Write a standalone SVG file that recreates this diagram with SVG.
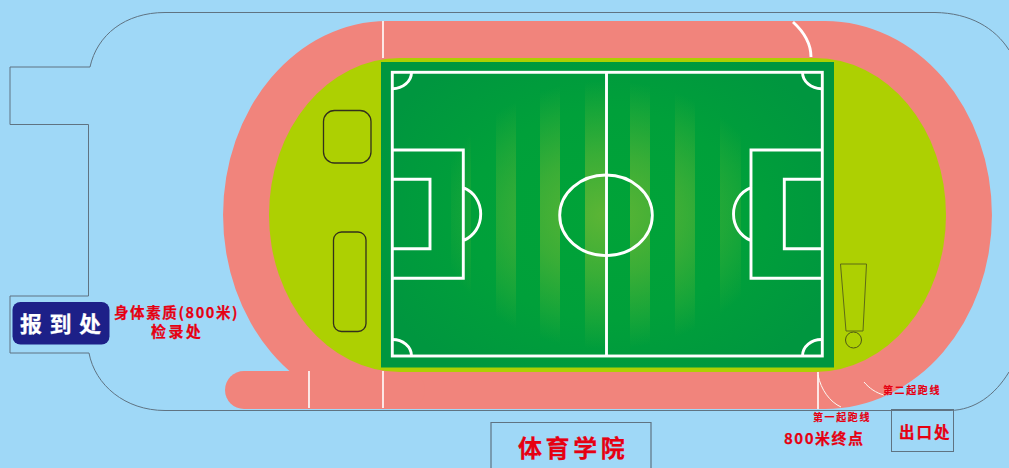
<svg xmlns="http://www.w3.org/2000/svg" width="1009" height="468" viewBox="0 0 1009 468">
<style>
text{font-family:"Noto Sans CJK SC","Liberation Sans",sans-serif;font-weight:700;fill:#e60012;stroke:#e60012;stroke-width:.25}
.o{fill:none;stroke:#5f7382;stroke-width:1}
.w{fill:none;stroke:#fff;stroke-width:2.9}
.t{fill:none;stroke:#fff;stroke-width:1.6}
.f{fill:none;stroke:#fbfbf5;stroke-width:1}
.k{fill:none;stroke:#33301c;stroke-width:1.3}
.s{fill:url(#glow)}
</style>
<defs>
<radialGradient id="base" gradientUnits="userSpaceOnUse" cx="0" cy="0" r="1" gradientTransform="translate(606 215) scale(250 190)">
<stop offset="0" stop-color="#00a338"/><stop offset="0.55" stop-color="#00a03a"/><stop offset="1" stop-color="#00963f"/>
</radialGradient>
<radialGradient id="glow" gradientUnits="userSpaceOnUse" cx="0" cy="0" r="1" gradientTransform="translate(606 215) scale(170 134)">
<stop offset="0" stop-color="#5cb535" stop-opacity="1"/><stop offset="0.45" stop-color="#5cb535" stop-opacity=".62"/><stop offset="1" stop-color="#5cb535" stop-opacity="0"/>
</radialGradient>
</defs>
<rect width="1009" height="468" fill="#9fd8f7"/>
<g id="outline"><path class="o" d="M90 67H10V124.500H88.500V296H10V353H89C95 385 125 410.500 165 410.500H950C975 410 995 395 1009 372M90 67C97 35 125 12.500 165 12.500H935C970 13 995 28 1009 50"/></g>
<g id="track">
<path fill="#f1847c" d="M387 21H825A167 194 0 0 1 825 409H387A164 194 0 0 1 387 21Z"/>
<rect x="225" y="371" width="200" height="38" rx="19" fill="#f1847c"/>
<path fill="#add002" d="M400 58H815A131 157 0 0 1 815 372H400A131 157 0 0 1 400 58Z"/>
</g>
<g id="pitch">
<rect x="381" y="62" width="453" height="305.500" fill="url(#base)"/>
<rect class="s" x="451" y="62" width="20" height="305"/>
<rect class="s" x="496" y="62" width="20" height="305"/>
<rect class="s" x="540" y="62" width="20" height="305"/>
<rect class="s" x="585" y="62" width="20" height="305"/>
<rect class="s" x="630" y="62" width="20" height="305"/>
<rect class="s" x="675" y="62" width="20" height="305"/>
<rect class="s" x="720" y="62" width="21" height="305"/>
<rect class="w" x="392.300" y="72.300" width="430" height="283.700"/>
<path class="w" d="M606.500 72V356"/>
<ellipse class="w" cx="606" cy="215.300" rx="46.300" ry="40.300"/>
<path class="w" d="M392 150H463.300V278.300H392M392 179.300H430V248.700H392M463.300 187.700C474 192 480.700 202 480.700 214C480.700 226 474 236 463.300 240.700"/>
<path class="w" d="M822 150H751V278.300H822M822 179.300H784.300V248.700H822M751 187.700C740.300 192 733.500 202 733.500 214C733.500 226 740.300 236 751 240.700"/>
<path class="w" d="M392 88.700A19 16.500 0 0 0 411.500 72M802.500 72A19 16.500 0 0 0 822 88.700M392 339.500A19 16.500 0 0 1 411.500 356M802.500 356A19 16.500 0 0 1 822 339.500"/>
</g>
<g id="connectors">
<path class="t" d="M383 21V58M383 371V408M309 371V408M818 372V409"/>
<path class="w" d="M793 22C804 32 811 43 811 57"/>
<path class="f" d="M818 375C821 390 830 402 841 407M864 382C869 388 876 393 884 395"/>
</g>
<g id="equipment">
<rect class="k" x="323.500" y="110.500" width="47.500" height="52.500" rx="11"/>
<rect class="k" x="333.500" y="232" width="32.500" height="99.500" rx="8"/>
<path fill="none" stroke="#5d6a16" stroke-width="1" d="M840.500 264H866.500L863 331H846Z"/>
<circle cx="853.500" cy="340" r="8" fill="none" stroke="#4e5a14" stroke-width="1"/>
</g>
<g id="checkin">
<rect x="12.500" y="302" width="97" height="42.500" rx="8" fill="#1d2088"/>
<text x="20" y="332" font-size="22" letter-spacing="7.500" style="fill:#fff;stroke:#fff">报到处</text>
</g>
<g id="inspection">
<text x="114" y="318" font-size="14.500" letter-spacing="1.600">身体素质(800米)</text>
<text x="151" y="337" font-size="15" letter-spacing="2.400">检录处</text>
</g>
<g id="college">
<path fill="none" stroke="#5f7382" stroke-width="1.200" d="M491 468V422.500H651V468"/>
<text x="518" y="457" font-size="24" letter-spacing="3.600">体育学院</text>
</g>
<g id="exit">
<rect class="o" x="891.500" y="409.500" width="62" height="42"/>
<text x="899" y="438" font-size="15.500" letter-spacing="2">出口处</text>
</g>
<g id="labels">
<text x="883" y="394" font-size="10" letter-spacing="1.600" style="stroke-width:.15">第二起跑线</text>
<text x="813" y="421" font-size="10" letter-spacing="1.600" style="stroke-width:.15">第一起跑线</text>
<text x="784" y="444" font-size="15" letter-spacing="1.500">800米终点</text>
</g>
</svg>
